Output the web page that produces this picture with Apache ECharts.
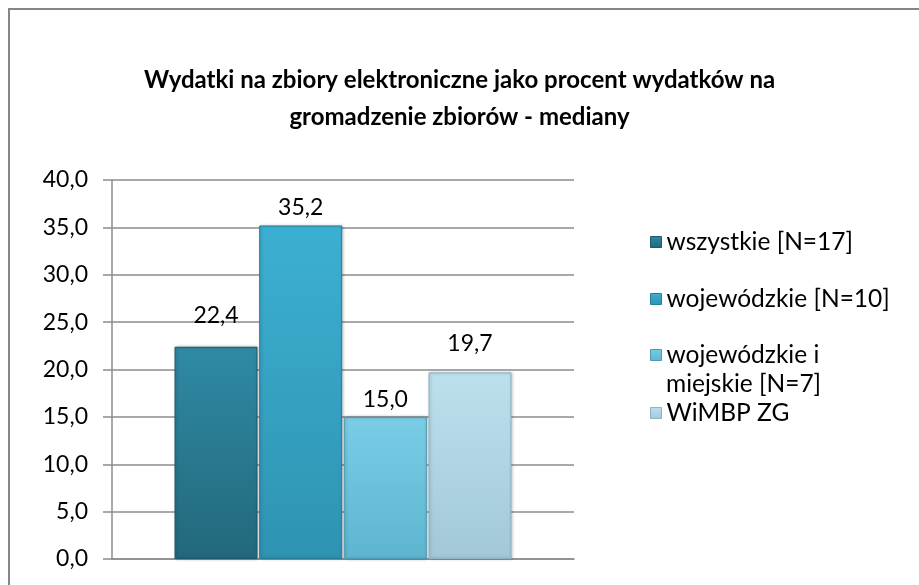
<!DOCTYPE html>
<html>
<head>
<meta charset="utf-8">
<script src="https://cdn.jsdelivr.net/npm/echarts@6/dist/echarts.min.js"></script>
<style>html,body{margin:0;padding:0;background:#fff}#c{width:919px;height:585px}</style>
</head>
<body>
<div id="c"></div>
<script>
var titleLines = ['Wydatki na zbiory elektroniczne jako procent wydatków na', 'gromadzenie zbiorów - mediany'];
var categories = [''];
var seriesNames = ['wszystkie [N=17]', 'wojewódzkie [N=10]', 'wojewódzkie i miejskie [N=7]', 'WiMBP ZG'];
var legendLines = [['wszystkie [N=17]'], ['wojewódzkie [N=10]'], ['wojewódzkie i', 'miejskie [N=7]'], ['WiMBP ZG']];
var values = [22.4, 35.2, 15.0, 19.7];
var yTicks = [0, 5, 10, 15, 20, 25, 30, 35, 40];

var FONT = 'Lato';
var palettes = [
  ['#2f8aa3', '#22687c', '#1d5a6c'],
  ['#3cb0d2', '#2f93b2', '#277f9a'],
  ['#79cde6', '#5db5cf', '#4d9bb3'],
  ['#bde0ee', '#a2c8d8', '#8fb3c2']
];
var labelDist = [20, 6, 6, 17];
function fmt(v){ return Number(v).toFixed(1).replace('.', ','); }
function grad(p){
  return new echarts.graphic.LinearGradient(0,0,0,1,[
    {offset:0, color:p[0]},{offset:1, color:p[1]}
  ]);
}
var series = seriesNames.map(function(n, i){
  return {
    name: n, type: 'bar',
    data: [values[i]],
    barWidth: 83, barGap: '2%',
    itemStyle: { color: grad(palettes[i]), borderColor: palettes[i][2], borderWidth: 1,
      shadowColor: 'rgba(0,0,0,0.25)', shadowBlur: 3, shadowOffsetX: 1 },
    label: { show: true, position: 'top', distance: labelDist[i], color: '#000',
      fontFamily: FONT, fontSize: 23, formatter: function(p){ return fmt(p.value); } }
  };
});
var legendTops = [227, 284, 340, 398];
var LEG_FS = 24.5, LEG_LEFT = 650;
var legends = seriesNames.map(function(n, i){
  return {
    data: [{name: n, icon: 'rect', itemStyle: {color: grad(palettes[i]), borderColor: palettes[i][2], borderWidth: 1}}],
    left: LEG_LEFT, top: legendTops[i], orient: 'vertical', padding: 0,
    itemWidth: 11, itemHeight: 11, itemGap: 4,
    textStyle: { fontFamily: FONT, fontSize: LEG_FS, color: '#000', lineHeight: 30 },
    formatter: function(){ return legendLines[i][0]; },
    selectedMode: false
  };
});
var graphics = [{ type: 'rect', shape: {x: 9, y: 9, width: 1000, height: 1000},
  style: {fill: 'none', stroke: '#868686', lineWidth: 2}, silent: true }];
legendLines.forEach(function(lines, i){
  for (var k = 1; k < lines.length; k++) {
    graphics.push({ type: 'text', left: LEG_LEFT + 16, top: legendTops[i] + 29 * k, silent: true,
      style: { text: lines[k], fontFamily: FONT, fontSize: LEG_FS, fill: '#000', lineHeight: 30, verticalAlign: 'top' } });
  }
});
var chart = echarts.init(document.getElementById('c'), null, {renderer: 'canvas'});
chart.setOption({
  animation: false,
  backgroundColor: '#fff',
  title: {
    text: titleLines.join('\n'), left: 'center', top: 57,
    textStyle: { fontFamily: FONT, fontWeight: 'bold', fontSize: 24, color: '#000', lineHeight: 37 }
  },
  graphic: graphics,
  legend: legends,
  grid: { left: 112, right: 345, top: 180, bottom: 26 },
  xAxis: { type: 'category', data: categories,
    axisLine: { show: true, lineStyle: {color: '#8c8c8c', width: 1.5} },
    axisTick: { show: false }, axisLabel: { show: false } },
  yAxis: { type: 'value', min: yTicks[0], max: yTicks[yTicks.length-1], interval: yTicks[1]-yTicks[0],
    axisLine: { show: true, lineStyle: {color: '#8c8c8c', width: 1.5} },
    axisTick: { show: true, length: 9, lineStyle: {color: '#8c8c8c', width: 1.5} },
    splitLine: { lineStyle: {color: '#8c8c8c', width: 1.5} },
    axisLabel: { fontFamily: FONT, fontSize: 23, color: '#000', margin: 24, formatter: fmt } },
  series: series
});
</script>
</body>
</html>
